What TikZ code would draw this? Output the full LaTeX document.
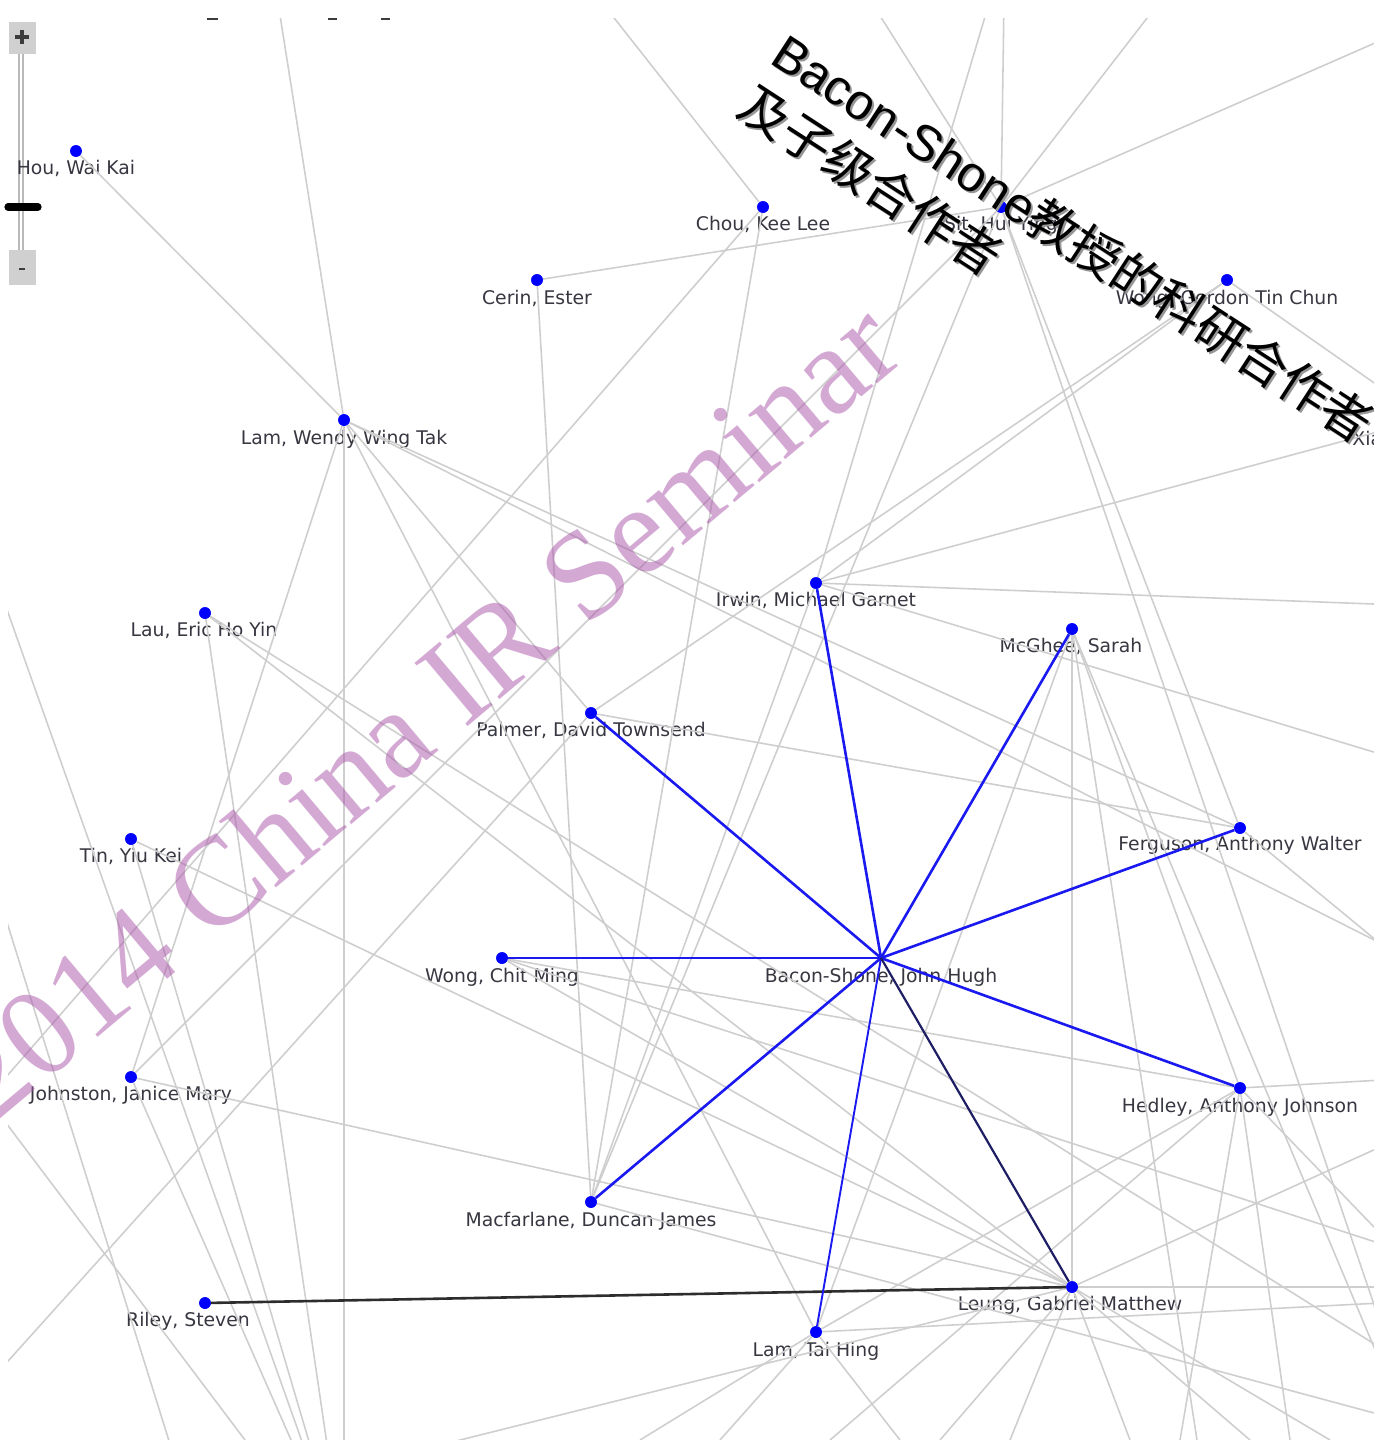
\documentclass[tikz,border=0pt]{standalone}
\usepackage{fontspec}
\setmainfont{DejaVu Sans}
\newfontfamily\wmserif{Liberation Serif}
\newfontfamily\wmsans{Liberation Sans}
\newfontfamily\cjkfont{Noto Sans CJK SC}
\definecolor{edgegray}{RGB}{206,206,206}
\definecolor{bluelink}{RGB}{25,25,240}
\definecolor{navylink}{RGB}{30,30,100}
\definecolor{darklink}{RGB}{45,45,45}
\definecolor{dotblue}{RGB}{0,0,255}
\definecolor{labeltext}{RGB}{55,55,65}
\definecolor{ctrlgray}{RGB}{208,208,208}
\definecolor{trackgray}{RGB}{185,185,185}
\definecolor{glyphgray}{RGB}{60,60,60}
\definecolor{pinkwm}{RGB}{169,84,169}
\definecolor{shadowgray}{RGB}{150,150,150}
\begin{document}
\begin{tikzpicture}[x=0.5pt,y=-0.5pt,
  dot/.style={circle,fill=dotblue,inner sep=0pt,minimum size=5.8pt},
  lbl/.style={anchor=base,inner sep=0pt,text=labeltext,font=\fontsize{9.4}{11}\selectfont},
  grayedge/.style={draw=edgegray,line width=0.78pt},
  blueedge/.style={draw=bluelink,line width=1.3pt},
  thinblue/.style={draw=bluelink,line width=0.95pt},
  navyedge/.style={draw=navylink,line width=1.1pt},
  darkedge/.style={draw=darklink,line width=1.3pt},
  wmcjk/.style={anchor=base west,inner sep=0pt,rotate=-33,font=\fontsize{25}{25}\selectfont}
]
\useasboundingbox (0,0) rectangle (1374,1440);
\fill[white] (0,0) rectangle (1374,1440);

% ---------- nodes (dots) ----------
\node[dot] (hou) at (76,151) {};
\node[dot] (chou) at (763,207) {};
\node[dot] (sit) at (1001,207) {};
\node[dot] (cerin) at (537,280) {};
\node[dot] (gordon) at (1227,280) {};
\node[dot] (wendy) at (344,420) {};
\node[dot] (lau) at (205,613) {};
\node[dot] (irwin) at (816,583) {};
\node[dot] (mcghee) at (1072,629) {};
\node[dot] (palmer) at (591,713) {};
\node[dot] (tin) at (131,839) {};
\node[dot] (ferguson) at (1240,828) {};
\node[dot] (chitming) at (502,958) {};
\node[dot] (johnston) at (131,1077) {};
\node[dot] (hedley) at (1240,1088) {};
\node[dot] (macfarlane) at (591,1202) {};
\node[dot] (riley) at (205,1303) {};
\node[dot] (leung) at (1072,1287) {};
\node[dot] (taihing) at (816,1332) {};
\node[circle,inner sep=0pt,minimum size=3pt,fill=dotblue] (bacon) at (881,958) {};

% off-canvas ends
\coordinate (xia) at (1392,428);
\coordinate (s1) at (344,1560);
\coordinate (o1) at (276,-10);
\coordinate (o2) at (600,0);
\coordinate (o3) at (0,1084);
\coordinate (o4) at (870,0);
\coordinate (o5) at (1004,0);
\coordinate (o6) at (1161,0);
\coordinate (o7) at (1400,32);
\coordinate (o8) at (1400,401);
\coordinate (o10) at (1400,605);
\coordinate (o11) at (1400,760);
\coordinate (o12) at (1400,953);
\coordinate (o14) at (0,590);
\coordinate (o15a) at (0,900);
\coordinate (o15b) at (175,1460);
\coordinate (o16) at (990,0);
\coordinate (o17) at (0,1370);
\coordinate (o19) at (1400,1360);
\coordinate (o20) at (1197,1440);
\coordinate (o21) at (1420,1440);
\coordinate (o22) at (1413,1440);
\coordinate (o23) at (1400,1250);
\coordinate (o24) at (1400,1420);
\coordinate (o26) at (1400,1287);
\coordinate (o27) at (1400,1138);
\coordinate (o28) at (0,1555);
\coordinate (o29) at (1400,1302);
\coordinate (o30) at (830,1440);
\coordinate (o31) at (1400,1079);
\coordinate (o32) at (1400,1254);
\coordinate (o33) at (1400,960);
\coordinate (o34) at (0,1115);
\coordinate (o35) at (245,1440);
\coordinate (b1) at (940,1440);
\coordinate (b2) at (1010,1440);
\coordinate (b3) at (1130,1440);
\coordinate (b4) at (1250,1440);
\coordinate (b5) at (1330,1440);
\coordinate (b6) at (640,1440);
\coordinate (b7) at (720,1440);
\coordinate (b8) at (900,1440);
\coordinate (b9) at (1180,1440);
\coordinate (b10) at (1290,1440);

% ---------- zoom control ----------
\fill[ctrlgray] (9,22) rectangle (36,54);
\draw[glyphgray,line width=1.6pt] (15,37) -- (29,37) (22,30) -- (22,44);
\draw[trackgray,line width=2.6pt] (21,54) -- (21,250);
\draw[white,line width=0.9pt] (21,54) -- (21,250);
\fill[ctrlgray] (9,250) rectangle (36,285);
\draw[glyphgray,line width=1.3pt] (19,269) -- (25,269);
\draw[black,line width=3.6pt,line cap=round] (8,207) -- (38,207);
\draw[glyphgray,line width=1.2pt] (207,19) -- (218,19) (328,19) -- (337,19) (381,19) -- (390,19);

% ---------- labels ----------
\node[lbl] (hou-l) at (76,174) {Hou, Wai Kai};
\node[lbl] (chou-l) at (763,230) {Chou, Kee Lee};
\node[lbl] (sit-l) at (1001,230) {Sit, Hui Ying};
\node[lbl] (cerin-l) at (537,304) {Cerin, Ester};
\node[lbl] (gordon-l) at (1227,304) {Wong, Gordon Tin Chun};
\node[lbl,anchor=base west] (xia-l) at (1352,445) {Xia};
\node[lbl] (wendy-l) at (344,444) {Lam, Wendy Wing Tak};
\node[lbl] (lau-l) at (204,636) {Lau, Eric Ho Yin};
\node[lbl] (irwin-l) at (816,606) {Irwin, Michael Garnet};
\node[lbl] (mcghee-l) at (1071,652) {McGhee, Sarah};
\node[lbl] (palmer-l) at (591,736) {Palmer, David Townsend};
\node[lbl] (tin-l) at (131,862) {Tin, Yiu Kei};
\node[lbl] (ferguson-l) at (1240,850) {Ferguson, Anthony Walter};
\node[lbl] (chitming-l) at (502,982) {Wong, Chit Ming};
\node[lbl] (bacon-l) at (881,982) {Bacon-Shone, John Hugh};
\node[lbl] (johnston-l) at (131,1100) {Johnston, Janice Mary};
\node[lbl] (hedley-l) at (1240,1112) {Hedley, Anthony Johnson};
\node[lbl] (macfarlane-l) at (591,1226) {Macfarlane, Duncan James};
\node[lbl] (riley-l) at (188,1326) {Riley, Steven};
\node[lbl] (leung-l) at (1070,1310) {Leung, Gabriel Matthew};
\node[lbl] (taihing-l) at (816,1356) {Lam, Tai Hing};

% ---------- connectors ----------
\begin{scope}
\clip (8,18) rectangle (1374,1440);
\draw[grayedge] (hou) -- (wendy);
\draw[grayedge] (wendy) -- (o1);
\draw[grayedge] (wendy) -- (s1);
\draw[grayedge] (wendy) -- (johnston);
\draw[grayedge] (wendy) -- (taihing);
\draw[grayedge] (wendy) -- (o12);
\draw[grayedge] (wendy) -- (palmer);
\draw[grayedge] (wendy) -- (ferguson);
\draw[grayedge] (chou) -- (o2);
\draw[grayedge] (chou) -- (o3);
\draw[grayedge] (chou) -- (macfarlane);
\draw[grayedge] (cerin) -- (sit);
\draw[grayedge] (cerin) -- (macfarlane);
\draw[grayedge] (sit) -- (o4);
\draw[grayedge] (sit) -- (o5);
\draw[grayedge] (sit) -- (o6);
\draw[grayedge] (sit) -- (o7);
\draw[grayedge] (sit) -- (johnston);
\draw[grayedge] (sit) -- (macfarlane);
\draw[grayedge] (sit) -- (ferguson);
\draw[grayedge] (sit) -- (o21);
\draw[grayedge] (gordon) -- (irwin);
\draw[grayedge] (gordon) -- (palmer);
\draw[grayedge] (gordon) -- (o8);
\draw[grayedge] (irwin) -- (xia);
\draw[grayedge] (irwin) -- (o10);
\draw[grayedge] (irwin) -- (o11);
\draw[grayedge] (irwin) -- (o16);
\draw[grayedge] (irwin) -- (macfarlane);
\draw[grayedge] (palmer) -- (ferguson);
\draw[grayedge] (palmer) -- (o17);
\draw[grayedge] (mcghee) -- (leung);
\draw[grayedge] (mcghee) -- (taihing);
\draw[grayedge] (mcghee) -- (hedley);
\draw[grayedge] (mcghee) -- (o20);
\draw[grayedge] (mcghee) -- (o22);
\draw[grayedge] (lau) -- (s1);
\draw[grayedge] (lau) -- (leung);
\draw[grayedge] (lau) -- (o19);
\draw[grayedge] (tin) -- (s1);
\draw[grayedge] (tin) -- (leung);
\draw[grayedge] (johnston) -- (s1);
\draw[grayedge] (johnston) -- (leung);
\draw[grayedge] (o14) -- (s1);
\draw[grayedge] (o15a) -- (o15b);
\draw[grayedge] (chitming) -- (hedley);
\draw[grayedge] (chitming) -- (o23);
\draw[grayedge] (chitming) -- (leung);
\draw[grayedge] (macfarlane) -- (o24);
\draw[grayedge] (leung) -- (o26);
\draw[grayedge] (leung) -- (o27);
\draw[grayedge] (leung) -- (o28);
\draw[grayedge] (taihing) -- (o29);
\draw[grayedge] (hedley) -- (taihing);
\draw[grayedge] (hedley) -- (o30);
\draw[grayedge] (hedley) -- (o31);
\draw[grayedge] (hedley) -- (o32);
\draw[grayedge] (ferguson) -- (o33);
\draw[grayedge] (o34) -- (o35);
\draw[grayedge] (leung) -- (b1);
\draw[grayedge] (leung) -- (b2);
\draw[grayedge] (leung) -- (b3);
\draw[grayedge] (leung) -- (b4);
\draw[grayedge] (leung) -- (b5);
\draw[grayedge] (taihing) -- (b6);
\draw[grayedge] (taihing) -- (b7);
\draw[grayedge] (taihing) -- (b8);
\draw[grayedge] (hedley) -- (b9);
\draw[grayedge] (hedley) -- (b10);
% highlighted links
\draw[darkedge] (riley) -- (leung);
\draw[blueedge] (bacon.center) -- (irwin);
\draw[blueedge] (bacon.center) -- (mcghee);
\draw[blueedge] (bacon.center) -- (palmer);
\draw[blueedge] (bacon.center) -- (ferguson);
\draw[blueedge] (bacon.center) -- (chitming);
\draw[blueedge] (bacon.center) -- (hedley);
\draw[blueedge] (bacon.center) -- (macfarlane);
\draw[thinblue] (bacon.center) -- (taihing);
\draw[navyedge] (bacon.center) -- (leung);
\end{scope}

% redraw dots on top of the connectors
\foreach \p in {{76,151},{763,207},{1001,207},{537,280},{1227,280},{344,420},{205,613},{816,583},{1072,629},{591,713},{131,839},{1240,828},{502,958},{131,1077},{1240,1088},{591,1202},{205,1303},{1072,1287},{816,1332}}
  \fill[dotblue] (\p) circle (2.9pt);

% ---------- watermarks ----------
\node[anchor=base,inner sep=0pt,rotate=40,text=pinkwm,text opacity=0.5,
      font=\wmserif\fontsize{63}{63}\selectfont] (wmpink) at (450,742) {2014 China IR Seminar};
\node[wmcjk,text=shadowgray] (wm1s) at (770,64) {{\wmsans Bacon-Shone}{\cjkfont 教授的科研合作者}};
\node[wmcjk,text=shadowgray] (wm2s) at (736,116) {\cjkfont 及子级合作者};
\node[wmcjk,text=black] (wm1) at (768,62) {{\wmsans Bacon-Shone}{\cjkfont 教授的科研合作者}};
\node[wmcjk,text=black] (wm2) at (734,114) {\cjkfont 及子级合作者};
\end{tikzpicture}
\end{document}
